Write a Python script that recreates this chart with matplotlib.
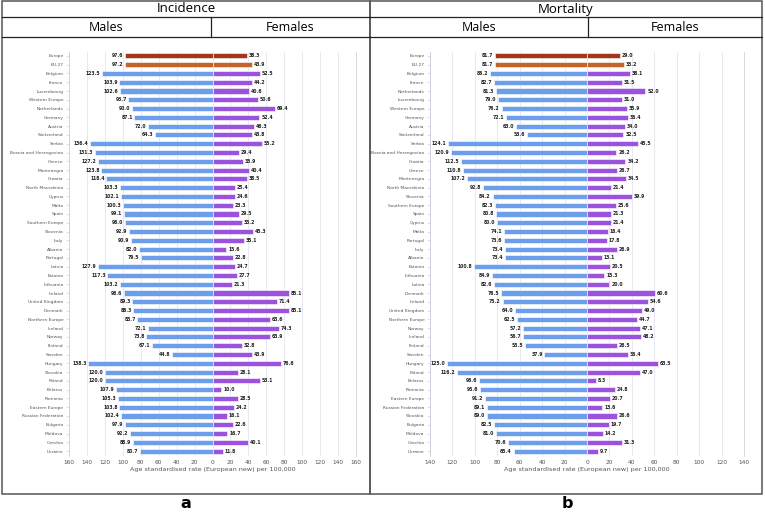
import numpy as np
import matplotlib.pyplot as plt
from matplotlib.patches import Rectangle

# incidence (left panel)
inc_names = ['Europe', 'EU-27', 'Belgium', 'France', 'Luxembourg', 'Western Europe',
             'Netherlands', 'Germany', 'Austria', 'Switzerland', 'Serbia',
             'Bosnia and Herzegovina', 'Greece', 'Montenegro', 'Croatia',
             'North Macedonia', 'Cyprus', 'Malta', 'Spain', 'Southern Europe',
             'Slovenia', 'Italy', 'Albania', 'Portugal', 'Latvia', 'Estonia',
             'Lithuania', 'Ireland', 'United Kingdom', 'Denmark', 'Northern Europe',
             'Iceland', 'Norway', 'Finland', 'Sweden', 'Hungary', 'Slovakia',
             'Poland', 'Belarus', 'Romania', 'Eastern Europe', 'Russian Federation',
             'Bulgaria', 'Moldova', 'Czechia', 'Ukraine']
inc_male = [97.6, 97.2, 123.5, 103.9, 102.6, 93.7, 90.0, 87.1, 72.0, 64.3, 136.4,
            131.3, 127.2, 123.8, 118.4, 103.3, 102.1, 100.3, 99.1, 98.0, 92.9, 90.9,
            82.0, 79.5, 127.9, 117.3, 103.2, 98.6, 89.3, 88.3, 83.7, 72.1, 73.8,
            67.1, 44.8, 138.3, 120.0, 120.0, 107.9, 105.3, 103.8, 102.4, 97.9,
            92.2, 88.9, 80.7]
inc_female = [38.3, 43.9, 52.5, 44.2, 40.6, 50.6, 69.4, 52.4, 46.3, 43.8, 55.2,
              29.4, 33.9, 40.4, 38.5, 25.4, 24.6, 23.3, 29.5, 33.2, 45.3, 35.1,
              15.6, 22.8, 24.7, 27.7, 21.3, 85.1, 71.4, 85.1, 63.6, 74.3, 63.9,
              32.8, 43.9, 76.6, 28.1, 53.1, 10.0, 28.5, 24.2, 16.1, 22.6, 16.7,
              40.1, 11.8]

# mortality (right panel)
mort_names = ['Europe', 'EU-27', 'Belgium', 'France', 'Netherlands', 'Luxembourg',
              'Western Europe', 'Germany', 'Austria', 'Switzerland', 'Serbia',
              'Bosnia and Herzegovina', 'Croatia', 'Greece', 'Montenegro',
              'North Macedonia', 'Slovenia', 'Southern Europe', 'Spain', 'Cyprus',
              'Malta', 'Portugal', 'Italy', 'Albania', 'Estonia', 'Lithuania',
              'Latvia', 'Denmark', 'Ireland', 'United Kingdom', 'Northern Europe',
              'Norway', 'Iceland', 'Finland', 'Sweden', 'Hungary', 'Poland',
              'Belarus', 'Romania', 'Eastern Europe', 'Russian Federation',
              'Slovakia', 'Bulgaria', 'Moldova', 'Czechia', 'Ukraine']
mort_male = [81.7, 81.7, 86.2, 82.7, 81.3, 79.0, 76.2, 72.1, 63.0, 53.6, 124.1,
             120.9, 112.5, 110.8, 107.2, 92.8, 84.2, 82.3, 80.8, 80.0, 74.1, 73.6,
             73.4, 73.4, 100.8, 84.9, 82.6, 76.5, 75.2, 64.0, 62.5, 57.2, 56.7,
             55.5, 37.9, 125.0, 116.2, 96.6, 95.6, 91.2, 89.1, 89.0, 82.5, 81.0,
             70.6, 65.4]
mort_female = [29.0, 33.2, 38.1, 31.5, 52.0, 31.0, 35.9, 36.4, 34.0, 32.5, 45.5,
               26.2, 34.2, 26.7, 34.5, 21.4, 39.9, 25.6, 21.3, 21.4, 18.4, 17.8,
               26.9, 13.1, 20.5, 15.3, 20.0, 60.6, 54.6, 49.0, 44.7, 47.1, 48.2,
               26.5, 36.4, 63.5, 47.0, 8.3, 24.8, 20.7, 13.6, 26.6, 19.7, 14.2,
               31.3, 9.7]

BLUE = '#6d9eeb'
PURPLE = '#9b52dc'
EUROPE = '#a3371b'
EU27 = '#c4632a'

W, H = 765, 514
fig = plt.figure(figsize=(W / 100, H / 100), dpi=100)

# frame / header boxes in pixel coordinates
bg = fig.add_axes([0, 0, 1, 1], zorder=0)
bg.set_xlim(0, W)
bg.set_ylim(H, 0)
bg.axis('off')


def panel_frame(x0, x1, xmid, title, letter, xletter):
    bg.add_patch(Rectangle((x0, 0.5), x1 - x0, 493.5, fill=False, ec='#555555', lw=1.1))
    bg.plot([x0, x1], [17, 17], color='#222222', lw=0.9)
    bg.plot([x0, x1], [37, 37], color='#222222', lw=0.9)
    bg.plot([xmid, xmid], [17, 37], color='#222222', lw=0.9)
    bg.text((x0 + x1) / 2, 9, title, ha='center', va='center', fontsize=9.5,
            family='Open Sans')
    bg.text((x0 + xmid) / 2, 27.5, 'Males', ha='center', va='center', fontsize=9,
            family='Open Sans')
    bg.text((xmid + x1) / 2, 27.5, 'Females', ha='center', va='center', fontsize=9,
            family='Open Sans')
    bg.text(xletter, 503, letter, ha='center', va='center', fontsize=11.5,
            fontweight='bold')


panel_frame(2, 370, 211, 'Incidence', 'a', 186)
panel_frame(370, 762, 588, 'Mortality', 'b', 567)


def pyramid(rect, names, male, female, lim, step):
    ax = fig.add_axes(rect, zorder=1)
    ax.patch.set_alpha(0)
    n = len(names)
    y = np.arange(n)
    male = np.array(male)
    female = np.array(female)
    mcol = [EUROPE, EU27] + [BLUE] * (n - 2)
    fcol = [EUROPE, EU27] + [PURPLE] * (n - 2)
    ax.barh(y, -male, height=0.58, color=mcol, edgecolor='white', lw=0.4, zorder=2)
    ax.barh(y, female, height=0.58, color=fcol, edgecolor='white', lw=0.4, zorder=2)
    for yi, m, f in zip(y, male, female):
        ax.text(-m - lim * 0.012, yi, f'{m:.1f}', ha='right', va='center',
                fontsize=3.3, fontweight='bold', color='#222222')
        ax.text(f + lim * 0.012, yi, f'{f:.1f}', ha='left', va='center',
                fontsize=3.3, fontweight='bold', color='#222222')
    ax.set_ylim(n - 0.5, -0.5)
    ax.set_xlim(-lim, lim)
    ticks = np.arange(-lim, lim + 1, step)
    ax.set_xticks(ticks)
    ax.set_xticklabels([str(abs(t)) for t in ticks])
    ax.set_yticks(y)
    ax.set_yticklabels(names)
    ax.tick_params(axis='y', labelsize=3.2, labelcolor='#555555', length=2,
                   width=0.4, color='#c8c8d8', pad=2)
    ax.tick_params(axis='x', labelsize=4.2, labelcolor='#555555', length=0, pad=3)
    ax.grid(axis='x', color='#e4e4ef', lw=0.6, zorder=0)
    ax.set_axisbelow(True)
    for s in ['top', 'bottom']:
        ax.spines[s].set_visible(False)
    ax.spines['left'].set_color('#c8c8d8')
    ax.spines['right'].set_color('#c8c8d8')
    ax.spines['left'].set_linewidth(0.5)
    ax.spines['right'].set_linewidth(0.5)
    ax.set_xlabel('Age standardised rate (European new) per 100,000', fontsize=4.6,
                  color='#555555', labelpad=2)
    return ax


y_bot = (H - 455.5) / H
y_h = (455.5 - 51.5) / H
pyramid([69 / W, y_bot, 287 / W, y_h], inc_names, inc_male, inc_female, 160, 20)
pyramid([430 / W, y_bot, 314 / W, y_h], mort_names, mort_male, mort_female, 140, 20)

fig.savefig('out.png', dpi=100)
